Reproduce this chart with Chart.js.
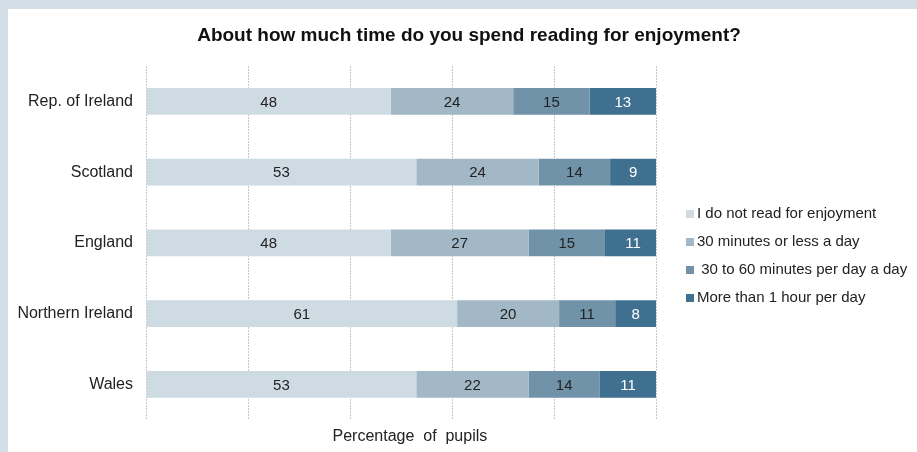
<!DOCTYPE html>
<html>
<head>
<meta charset="utf-8">
<script src="https://cdn.jsdelivr.net/npm/chart.js@4"></script>
<style>
    html, body { margin: 0; padding: 0; }
    body { width: 917px; height: 452px; background: #d3dee6; position: relative; overflow: hidden; }
    .panel { position: absolute; left: 8px; top: 9px; width: 909px; height: 443px; background: #fff; }
</style>
</head>
<body>
<div class="panel"><canvas id="chart"></canvas></div>
<script>
// Data
const countries = ['Rep. of Ireland', 'Scotland', 'England', 'Northern Ireland', 'Wales'];
const seriesNames = [
    'I do not read for enjoyment',
    '30 minutes or less a day',
    ' 30 to 60 minutes per day a day',
    'More than 1 hour per day'
];
const notRead = [48, 53, 48, 61, 53];
const upTo30 = [24, 24, 27, 20, 22];
const from30to60 = [15, 14, 15, 11, 14];
const moreThan1h = [13, 9, 11, 8, 11];
const xTicks = [0, 20, 40, 60, 80, 100];
const chartTitle = 'About how much time do you spend reading for enjoyment?';

const colors = ['#cfdbe3', '#a2b8c7', '#7093aa', '#40708f'];
const labelColors = ['#222', '#222', '#222', '#fff'];
const FONT = '"Liberation Sans", Arial, sans-serif';

// Values drawn in the middle of each bar segment
const segmentLabels = {
    id: 'segmentLabels',
    afterDatasetsDraw(chart) {
        const ctx = chart.ctx;
        ctx.save();
        ctx.font = '15px ' + FONT;
        ctx.textAlign = 'center';
        ctx.textBaseline = 'middle';
        chart.data.datasets.forEach((ds, i) => {
            chart.getDatasetMeta(i).data.forEach((bar, j) => {
                const p = bar.getCenterPoint();
                ctx.fillStyle = labelColors[i];
                ctx.fillText(ds.data[j], p.x, p.y + 1);
            });
        });
        ctx.restore();
    }
};

// Title centred over the whole panel, legend on the right
const decorations = {
    id: 'decorations',
    afterDraw(chart) {
        const ctx = chart.ctx;
        ctx.save();
        ctx.textBaseline = 'middle';
        ctx.font = 'bold 19px ' + FONT;
        ctx.textAlign = 'center';
        ctx.fillStyle = '#111';
        ctx.fillText(chartTitle, 461, 27);

        ctx.font = '15px ' + FONT;
        ctx.textAlign = 'left';
        seriesNames.forEach((name, i) => {
            const y = 205 + i * 28;
            ctx.fillStyle = colors[i];
            ctx.fillRect(678, y - 4, 8, 8);
            ctx.fillStyle = '#222';
            ctx.fillText(name, 689, y);
        });
        ctx.restore();
    }
};

new Chart(document.getElementById('chart'), {
    type: 'bar',
    data: {
        labels: countries,
        datasets: [notRead, upTo30, from30to60, moreThan1h].map((d, i) => ({
            label: seriesNames[i],
            data: d,
            backgroundColor: colors[i],
            borderWidth: 0,
            barPercentage: 0.38,
            categoryPercentage: 1
        }))
    },
    options: {
        indexAxis: 'y',
        responsive: true,
        maintainAspectRatio: false,
        animation: false,
        layout: { padding: { left: 0, right: 261, top: 57, bottom: 0 } },
        plugins: {
            legend: { display: false },
            tooltip: { enabled: false },
            title: { display: false }
        },
        scales: {
            x: {
                stacked: true,
                min: 0,
                max: 100,
                afterBuildTicks(scale) {
                    scale.ticks = xTicks.map(v => ({ value: v }));
                },
                ticks: { display: false },
                grid: { color: '#c6c6c6', drawTicks: false, lineWidth: 1 },
                border: { display: false, dash: [2, 1] },
                title: {
                    display: true,
                    text: '    Percentage  of  pupils',
                    color: '#222',
                    font: { family: FONT, size: 16 },
                    padding: { top: 7, bottom: 6 }
                }
            },
            y: {
                stacked: true,
                afterFit(scale) { scale.width = 138; },
                grid: { display: false, drawTicks: false },
                border: { display: false },
                ticks: {
                    color: '#222',
                    padding: 13,
                    font: { family: FONT, size: 16 }
                }
            }
        }
    },
    plugins: [segmentLabels, decorations]
});
</script>
</body>
</html>
